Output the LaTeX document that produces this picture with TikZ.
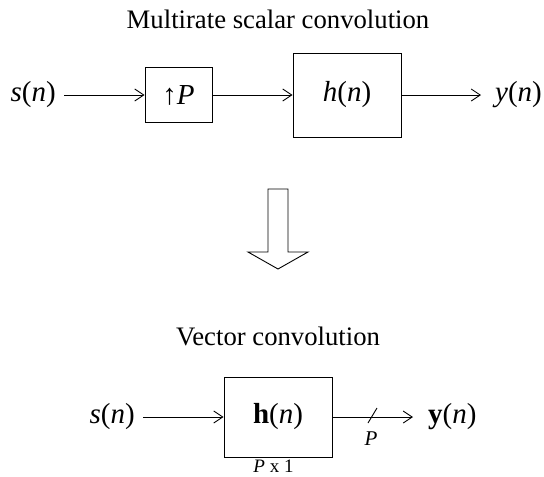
\documentclass[tikz,border=0pt]{standalone}
\usepackage{fontspec}
\setmainfont{Liberation Serif}
\usetikzlibrary{arrows.meta,calc}
\begin{document}
\begin{tikzpicture}[x=1pt,y=-1pt,
  sig/.style={inner ysep=0pt,font=\fontsize{29}{34}\selectfont},
  ttl/.style={inner sep=0pt,anchor=base,font=\fontsize{26.7}{32}\selectfont},
  blk/.style={draw,line width=0.9pt,inner sep=0pt,font=\fontsize{29}{34}\selectfont},
  conn/.style={line width=0.9pt,-{Straight Barb[length=9pt,width=12pt,line width=0.9pt]}},
  small/.style={inner sep=0pt,font=\fontsize{19}{22}\selectfont},
  bigarrow/.style={draw,line width=0.9pt,line join=miter}]
\useasboundingbox (0,0) rectangle (544,477);

% top
\node[ttl] (t1) at (278,28.5) {Multirate scalar convolution};
\node[sig,inner xsep=8pt,anchor=east] (s1) at (64,95) {\textit{s}(\textit{n})};
\node[blk,minimum width=67pt,minimum height=55pt] (up) at (178.5,95) {↑\textit{P}};
\node[blk,minimum width=108pt,minimum height=84pt] (h1) at (347,95) {\textit{h}(\textit{n})};
\node[sig,inner xsep=14pt,anchor=west] (y1) at (481,95) {\textit{y}(\textit{n})};
\draw[conn] (s1.east) -- (up.west);
\draw[conn] (up.east) -- (h1.west);
\draw[conn] (h1.east) -- (y1.west);

% big down arrow
\draw[bigarrow] (268,189) -- (288,189) -- (288,252) -- (308,252) -- (278,269)
  -- (248,252) -- (268,252) -- cycle;

% bottom
\node[ttl] (t2) at (278,345) {Vector convolution};
\node[sig,inner xsep=8pt,anchor=east] (s2) at (143,417) {\textit{s}(\textit{n})};
\node[blk,minimum width=108pt,minimum height=80pt] (hb) at (278,417) {\textbf{h}(\textit{n})};
\node[sig,inner xsep=15pt,anchor=west] (y2) at (413,417) {\textbf{y}(\textit{n})};
\draw[conn] (s2.east) -- (hb.west);
\draw[conn] (hb.east) -- (y2.west);
\coordinate (sl) at (372.5,416);
\draw[line width=0.9pt] ($(sl)+(4.5,-8)$) -- ($(sl)+(-4.5,7)$);
\node[inner sep=0pt,font=\fontsize{21}{25}\selectfont] (pl) at (371,439) {\textit{P}};
\node[small,anchor=base] (dim) at (273.5,472.5) {\textit{P} x 1};
\end{tikzpicture}
\end{document}
